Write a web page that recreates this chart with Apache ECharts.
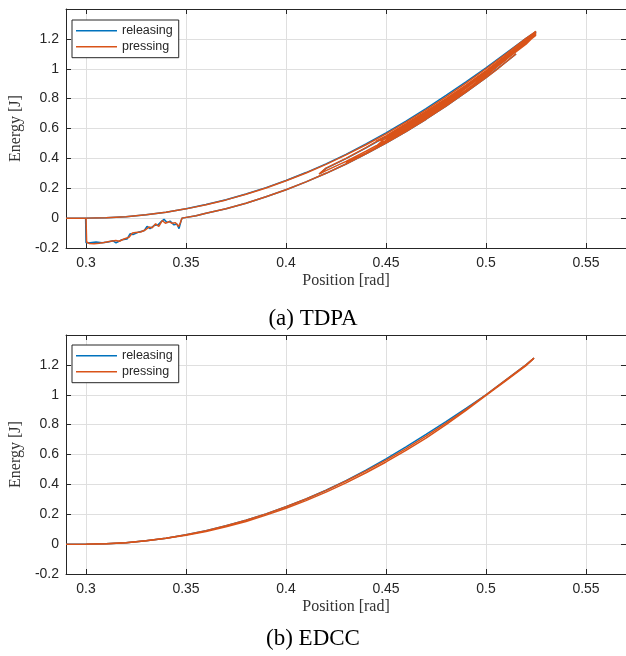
<!DOCTYPE html>
<html>
<head>
<meta charset="utf-8">
<script src="https://cdn.jsdelivr.net/npm/echarts@6/dist/echarts.min.js"></script>
<style>
html,body{margin:0;padding:0;background:#fff;}
#chart{width:626px;height:656px;}
</style>
</head>
<body>
<div id="chart"></div>
<script>
// ---------- data ----------
const seriesNames = ['releasing', 'pressing'];
const captions = ['(a) TDPA', '(b) EDCC'];

// (a) TDPA — pressing (orange)
const tdpaPressUpper = [[0.29,0],[0.30,0],[0.31,0.0025],[0.32,0.01],[0.33,0.0225],[0.34,0.04],[0.35,0.062],[0.36,0.09],[0.37,0.122],[0.38,0.16],[0.39,0.202],[0.40,0.25],[0.41,0.302],[0.42,0.36],[0.43,0.423],[0.44,0.491],[0.45,0.564],[0.46,0.642],[0.47,0.724],[0.48,0.812],[0.49,0.904],[0.50,1.0],[0.51,1.1],[0.52,1.203],[0.525,1.25]];
const tdpaPressBand = [[0.525,1.25],[0.52,1.19],[0.51,1.085],[0.50,0.985],[0.49,0.89],[0.48,0.80],[0.47,0.715],[0.46,0.632],[0.45,0.55],[0.44,0.472],[0.43,0.40],[0.42,0.335],[0.4165,0.295],
  [0.42,0.318],[0.43,0.38],[0.44,0.448],[0.45,0.52],[0.46,0.60],[0.47,0.685],[0.48,0.775],[0.49,0.87],[0.50,0.97],[0.51,1.072],[0.52,1.178],[0.525,1.225],
  [0.52,1.172],[0.51,1.07],[0.50,0.96],[0.49,0.855],[0.48,0.76],[0.47,0.672],[0.46,0.588],[0.455,0.55],
  [0.46,0.592],[0.47,0.69],[0.48,0.78],[0.49,0.875],[0.50,0.975],[0.51,1.078],[0.52,1.185],[0.5245,1.235],
  [0.52,1.195],[0.51,1.09],[0.50,0.988],[0.49,0.89],[0.48,0.798],[0.47,0.71],[0.46,0.628],[0.45,0.55],[0.445,0.515],
  [0.45,0.532],[0.46,0.61],[0.47,0.693],[0.48,0.78],[0.49,0.872],[0.50,0.97],[0.51,1.075],[0.52,1.18],[0.525,1.24],
  [0.52,1.17],[0.51,1.06],[0.50,0.955],[0.49,0.857],[0.48,0.765],[0.47,0.677],[0.46,0.595],[0.45,0.517],[0.445,0.48],
  [0.45,0.54],[0.46,0.618],[0.47,0.70],[0.48,0.788],[0.49,0.88],[0.50,0.978],[0.51,1.082],[0.52,1.188],[0.525,1.232],
  [0.52,1.165],[0.51,1.062],[0.50,0.95],[0.49,0.85],[0.48,0.757],[0.47,0.668],[0.46,0.585],[0.45,0.508],[0.44,0.437],[0.43,0.37]];
const tdpaPressDip = [[0.300,0],[0.3003,-0.16],[0.3017,-0.17],[0.304,-0.172],[0.3066,-0.168],[0.309,-0.163],[0.3116,-0.157],[0.3149,-0.15],[0.3166,-0.155],[0.319,-0.14],[0.3215,-0.128],[0.3232,-0.10],[0.3248,-0.097],[0.3273,-0.093],[0.3298,-0.078],[0.3314,-0.06],[0.3331,-0.065],[0.3348,-0.038],[0.3364,-0.056],[0.3381,-0.016],[0.3397,-0.034],[0.3414,-0.023],[0.3431,-0.035],[0.3447,-0.03],[0.3463,-0.056],[0.3472,-0.03],[0.348,0],
  [0.355,0.016],[0.36,0.033],[0.37,0.063],[0.38,0.10],[0.39,0.143],[0.40,0.19],[0.41,0.243],[0.42,0.30],[0.43,0.362],[0.44,0.43],[0.45,0.502],[0.46,0.58],[0.47,0.662],[0.48,0.75],[0.49,0.843],[0.50,0.94],[0.505,0.99],[0.51,1.045],[0.515,1.10]];

// (a) TDPA — releasing (blue)
const tdpaReleaseUpper = [[0.29,0],[0.30,0],[0.31,0.0025],[0.32,0.01],[0.33,0.0225],[0.34,0.04],[0.35,0.063],[0.36,0.091],[0.37,0.123],[0.38,0.161],[0.39,0.204],[0.40,0.252],[0.41,0.305],[0.42,0.363],[0.43,0.427],[0.44,0.497],[0.45,0.571],[0.46,0.65],[0.47,0.733],[0.48,0.821],[0.49,0.912],[0.50,1.006],[0.51,1.104],[0.52,1.203],[0.525,1.248]];
const tdpaReleaseBand = [[0.525,1.248],[0.52,1.185],[0.51,1.08],[0.50,0.978],[0.49,0.88],[0.48,0.79],[0.47,0.705],[0.46,0.622],[0.45,0.545],[0.44,0.47],[0.43,0.398],[0.42,0.333],[0.417,0.298]];
const tdpaReleaseDip = [[0.2998,0],[0.3,-0.165],[0.302,-0.165],[0.305,-0.16],[0.308,-0.165],[0.311,-0.16],[0.3135,-0.152],[0.315,-0.165],[0.318,-0.145],[0.3205,-0.14],[0.322,-0.105],[0.3235,-0.11],[0.326,-0.095],[0.329,-0.085],[0.3305,-0.055],[0.332,-0.07],[0.334,-0.05],[0.336,-0.045],[0.3375,-0.025],[0.339,-0.008],[0.3405,-0.03],[0.342,-0.02],[0.344,-0.045],[0.3455,-0.04],[0.3465,-0.07],[0.3475,-0.02],[0.348,0],
  [0.355,0.016],[0.36,0.033],[0.37,0.063],[0.38,0.10],[0.39,0.143],[0.40,0.19],[0.41,0.243],[0.42,0.30],[0.43,0.362],[0.44,0.43],[0.45,0.502],[0.46,0.58],[0.47,0.662],[0.48,0.75],[0.49,0.843],[0.50,0.94],[0.51,1.045],[0.515,1.10]];

// (b) EDCC
const edccPressUp = [[0.29,0],[0.30,0],[0.31,0.0025],[0.32,0.01],[0.33,0.0225],[0.34,0.04],[0.35,0.0625],[0.36,0.09],[0.37,0.1225],[0.38,0.16],[0.39,0.2025],[0.40,0.25],[0.41,0.3025],[0.42,0.36],[0.43,0.4225],[0.44,0.49],[0.45,0.5625],[0.46,0.64],[0.47,0.7225],[0.48,0.81],[0.49,0.9025],[0.50,1.0],[0.51,1.1],[0.52,1.2],[0.524,1.245]];
const edccPressDown = [[0.524,1.245],[0.52,1.195],[0.51,1.095],[0.50,0.995],[0.49,0.895],[0.48,0.80],[0.47,0.71],[0.46,0.628],[0.45,0.55],[0.44,0.478],[0.43,0.41],[0.42,0.348],[0.41,0.291],[0.40,0.24],[0.39,0.194],[0.38,0.152],[0.37,0.116],[0.36,0.085],[0.35,0.06],[0.34,0.039],[0.33,0.022],[0.32,0.01],[0.31,0.002],[0.30,0]];
const edccReleaseUp = [[0.29,0],[0.30,0],[0.31,0.0025],[0.32,0.01],[0.33,0.0225],[0.34,0.04],[0.35,0.0625],[0.36,0.09],[0.37,0.1225],[0.38,0.16],[0.39,0.2025],[0.40,0.25],[0.41,0.3025],[0.42,0.361],[0.43,0.425],[0.44,0.495],[0.45,0.571],[0.46,0.651],[0.47,0.734],[0.48,0.82],[0.49,0.908],[0.50,1.0],[0.51,1.1],[0.52,1.2],[0.524,1.245]];

// axis ranges
const xRange = [0.29, 0.57];
const yRange = [-0.2, 1.4];

// ---------- styling ----------
const BLUE = '#0072BD', ORANGE = '#D95319', AX = '#262626', GRIDC = '#dfdfdf';
const SANS = 'Liberation Sans', SERIF = 'Liberation Serif';
const grids = [
  {left: 60, top: 9, width: 566, height: 239},
  {left: 60, top: 335, width: 566, height: 239}
];

function xAxes(gi) {
  const base = {
    gridIndex: gi, type: 'value', min: xRange[0], max: xRange[1], splitNumber: 5,
    axisLine: {show: true, onZero: false, lineStyle: {color: AX, width: 1}},
    axisTick: {show: true, inside: true, length: 5, lineStyle: {color: AX, width: 1}}
  };
  return [
    Object.assign({}, base, {
      position: 'bottom',
      name: 'Position [rad]', nameLocation: 'middle', nameGap: 25,
      nameTextStyle: {fontFamily: SERIF, fontSize: 16, color: '#333'},
      axisLabel: {show: true, margin: 8, fontFamily: SANS, fontSize: 14, color: AX, showMinLabel: false, showMaxLabel: false},
      splitLine: {show: true, lineStyle: {color: GRIDC, width: 1}}
    }),
    Object.assign({}, base, {
      position: 'top', axisLabel: {show: false}, splitLine: {show: false}
    })
  ];
}
function yAxes(gi) {
  const base = {
    gridIndex: gi, type: 'value', min: yRange[0], max: yRange[1], interval: 0.2,
    axisLine: {show: true, onZero: false, lineStyle: {color: AX, width: 1}},
    axisTick: {show: true, inside: true, length: 5, lineStyle: {color: AX, width: 1}}
  };
  return [
    Object.assign({}, base, {
      position: 'left',
      name: 'Energy [J]', nameLocation: 'middle', nameGap: 35,
      nameTextStyle: {fontFamily: SERIF, fontSize: 16, color: '#333'},
      axisLabel: {show: true, margin: 7, fontFamily: SANS, fontSize: 14, color: AX, showMaxLabel: false},
      splitLine: {show: true, lineStyle: {color: GRIDC, width: 1}}
    }),
    Object.assign({}, base, {
      position: 'right', axisLabel: {show: false}, splitLine: {show: false}
    })
  ];
}

function line(name, data, axisIdx, color, z) {
  return {
    type: 'line', name: name, data: data,
    xAxisIndex: axisIdx, yAxisIndex: axisIdx,
    symbol: 'none', smooth: false, animation: false, z: z,
    lineStyle: {color: color, width: 1.5},
    itemStyle: {color: color}
  };
}

function legend(top) {
  return {
    data: seriesNames, left: 72, top: top, orient: 'vertical',
    selectedMode: false,
    icon: 'rect',
    itemWidth: 41, itemHeight: 1.5, itemGap: 0,
    padding: [2.7, 6, 3, 4],
    borderColor: AX, borderWidth: 1, backgroundColor: '#fff', borderRadius: 0,
    textStyle: {fontFamily: SANS, fontSize: 12.5, lineHeight: 16, color: AX}
  };
}

const chart = echarts.init(document.getElementById('chart'), null, {renderer: 'canvas'});
chart.setOption({
  animation: false,
  backgroundColor: '#fff',
  grid: grids,
  xAxis: [].concat(xAxes(0), xAxes(1)),
  yAxis: [].concat(yAxes(0), yAxes(1)),
  legend: [legend(20), legend(345)],
  series: [
    line(seriesNames[0], tdpaReleaseUpper, 0, BLUE, 2),
    line(seriesNames[0], tdpaReleaseBand, 0, BLUE, 2),
    line(seriesNames[0], tdpaReleaseDip, 0, BLUE, 2),
    line(seriesNames[1], tdpaPressBand, 0, ORANGE, 3),
    line(seriesNames[1], tdpaPressDip, 0, ORANGE, 3),
    line(seriesNames[1], tdpaPressUpper, 0, ORANGE, 3),
    line(seriesNames[0], edccReleaseUp, 2, BLUE, 2),
    line(seriesNames[1], edccPressDown, 2, ORANGE, 3),
    line(seriesNames[1], edccPressUp, 2, ORANGE, 3)
  ],
  graphic: [
    {type: 'text', left: 'center', top: 307, style: {text: captions[0], font: '23px "Liberation Serif"', fill: '#000'}},
    {type: 'text', left: 'center', top: 627, style: {text: captions[1], font: '23px "Liberation Serif"', fill: '#000'}}
  ]
});
</script>
</body>
</html>
